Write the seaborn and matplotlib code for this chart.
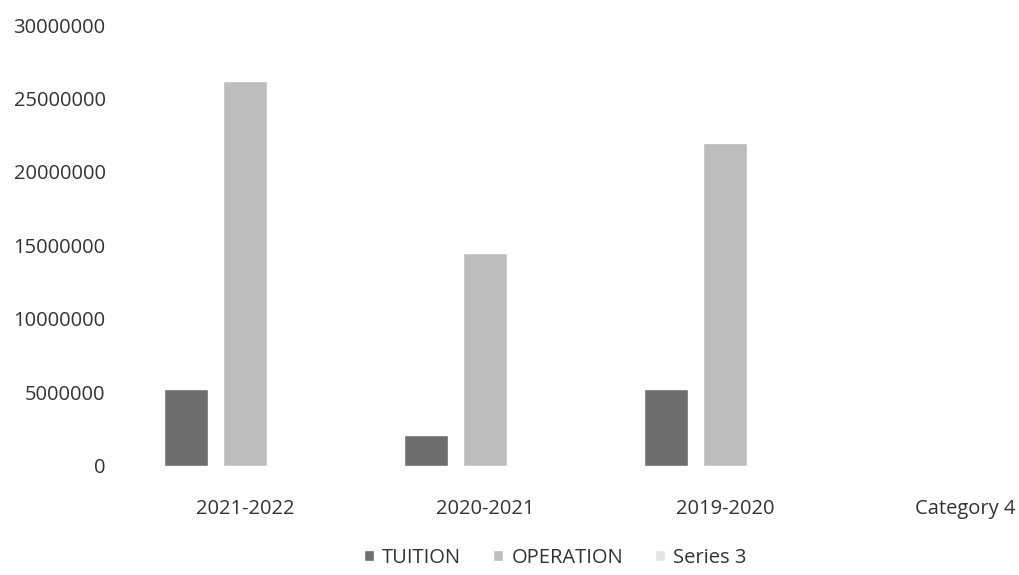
import pandas as pd
import numpy as np
import matplotlib
matplotlib.use("Agg")
import matplotlib.pyplot as plt
import seaborn as sns

# Chart data
categories = ["2021-2022", "2020-2021", "2019-2020", "Category 4"]
series_names = ["TUITION", "OPERATION", "Series 3"]
tuition = [5200000, 2100000, 5200000, np.nan]
operation = [26200000, 14500000, 22000000, np.nan]
series3 = [np.nan, np.nan, np.nan, np.nan]
y_ticks = [0, 5000000, 10000000, 15000000, 20000000, 25000000, 30000000]

df = pd.DataFrame({
    "category": categories * 3,
    "series": [series_names[0]] * 4 + [series_names[1]] * 4 + [series_names[2]] * 4,
    "value": tuition + operation + series3,
})

sns.set_theme(style="white")
plt.rcParams["font.family"] = ["Open Sans", "DejaVu Sans"]

colors = {"TUITION": "#6e6e6e", "OPERATION": "#bdbdbd", "Series 3": "#e4e4e4"}

fig = plt.figure(figsize=(10.19, 5.75), dpi=100)
ax = fig.add_axes([125 / 1019, 0.19, 1 - 125 / 1019, 0.7665])

sns.barplot(data=df, x="category", y="value", hue="series",
            order=categories, hue_order=series_names, palette=colors,
            width=0.74, gap=0.25, ax=ax, errorbar=None, saturation=1)

ax.set_xlim(-0.5, 3.225)
ax.set_ylim(0, 30000000)
ax.set_yticks(y_ticks)
ax.set_yticklabels([str(t) for t in y_ticks])
ax.set_xlabel("")
ax.set_ylabel("")
ax.tick_params(axis="y", labelsize=14.5, colors="#333333", pad=14, length=0)
ax.tick_params(axis="x", labelsize=14.5, colors="#333333", pad=24, length=0)
sns.despine(ax=ax, left=True, bottom=True)

sns.move_legend(ax, "center", bbox_to_anchor=(0.545, 0.03), bbox_transform=fig.transFigure,
                ncol=3, frameon=False, title=None, fontsize=14.5,
                handlelength=0.5, handleheight=0.5, columnspacing=1.6, handletextpad=0.4)
for t in ax.get_legend().get_texts():
    t.set_color("#333333")

fig.savefig("out.png", dpi=100)
